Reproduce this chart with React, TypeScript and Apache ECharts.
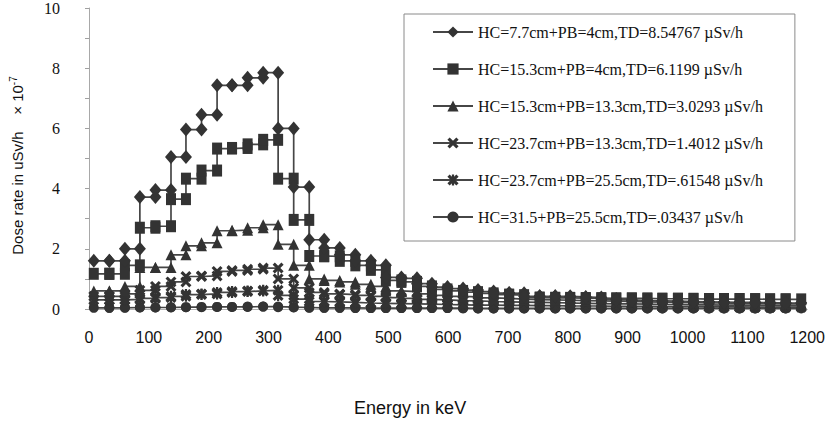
import React, { useEffect, useRef } from "react";
import * as echarts from "echarts";

// Bin edges of the energy spectrum (keV)
const energyEdges = [
  8, 34, 60, 85, 111, 137, 162, 188, 214, 239,
  265, 291, 316, 342, 368, 393, 419, 445, 471, 496,
  522, 548, 573, 599, 625, 650, 676, 702, 727, 753,
  779, 804, 830, 856, 881, 907, 933, 958, 984, 1010,
  1036, 1061, 1087, 1113, 1138, 1164, 1190,
];

// Dose rate per bin (uSv/h x 1e-7), one value for each bin between two edges
const doseHC77PB4 = [
  1.6, 1.6, 2.0, 3.72, 3.95, 5.05, 5.96, 6.45, 7.43, 7.43,
  7.68, 7.85, 6.0, 4.05, 2.3, 2.03, 1.8, 1.6, 1.45, 1.05,
  1.02, 0.84, 0.73, 0.68, 0.63, 0.58, 0.53, 0.52, 0.42, 0.42,
  0.42, 0.4, 0.38, 0.33, 0.3, 0.28, 0.27, 0.26, 0.25, 0.24,
  0.23, 0.22, 0.22, 0.21, 0.2, 0.2,
];
const doseHC153PB4 = [
  1.17, 1.17, 1.45, 2.7, 2.75, 3.65, 4.33, 4.6, 5.33, 5.35,
  5.47, 5.62, 4.33, 2.96, 1.76, 1.75, 1.6, 1.45, 1.3, 0.95,
  0.9, 0.75, 0.65, 0.6, 0.56, 0.52, 0.48, 0.46, 0.38, 0.37,
  0.37, 0.36, 0.36, 0.35, 0.35, 0.35, 0.34, 0.34, 0.34, 0.33,
  0.33, 0.33, 0.33, 0.32, 0.32, 0.32,
];
const doseHC153PB133 = [
  0.6, 0.6, 0.75, 1.38, 1.38, 1.8, 2.1, 2.2, 2.6, 2.62,
  2.7, 2.8, 2.15, 1.45, 1.0, 0.95, 0.9, 0.82, 0.75, 0.6,
  0.58, 0.5, 0.45, 0.42, 0.4, 0.37, 0.35, 0.33, 0.31, 0.3,
  0.29, 0.28, 0.27, 0.26, 0.25, 0.24, 0.23, 0.22, 0.21, 0.2,
  0.2, 0.19, 0.18, 0.18, 0.17, 0.17,
];
const doseHC237PB133 = [
  0.42, 0.42, 0.5, 0.62, 0.75, 0.9, 1.08, 1.1, 1.25, 1.28,
  1.32, 1.36, 1.0, 0.7, 0.55, 0.5, 0.48, 0.45, 0.42, 0.38,
  0.35, 0.32, 0.3, 0.28, 0.27, 0.25, 0.24, 0.23, 0.22, 0.21,
  0.2, 0.19, 0.18, 0.17, 0.17, 0.16, 0.15, 0.15, 0.14, 0.14,
  0.13, 0.13, 0.12, 0.12, 0.11, 0.11,
];
const doseHC237PB255 = [
  0.3, 0.3, 0.32, 0.35, 0.38, 0.42, 0.48, 0.5, 0.55, 0.58,
  0.6, 0.62, 0.45, 0.33, 0.25, 0.24, 0.22, 0.2, 0.19, 0.18,
  0.17, 0.16, 0.15, 0.14, 0.13, 0.13, 0.12, 0.12, 0.11, 0.11,
  0.1, 0.1, 0.1, 0.09, 0.09, 0.09, 0.08, 0.08, 0.08, 0.07,
  0.07, 0.07, 0.06, 0.06, 0.06, 0.06,
];
const doseHC315PB255 = [
  0.04, 0.04, 0.05, 0.05, 0.05, 0.06, 0.06, 0.07, 0.07, 0.07,
  0.08, 0.08, 0.06, 0.05, 0.04, 0.04, 0.04, 0.03, 0.03, 0.03,
  0.03, 0.03, 0.03, 0.03, 0.02, 0.02, 0.02, 0.02, 0.02, 0.02,
  0.02, 0.02, 0.02, 0.02, 0.02, 0.02, 0.02, 0.02, 0.02, 0.02,
  0.02, 0.02, 0.02, 0.02, 0.02, 0.02,
];

const seriesNames = [
  "HC=7.7cm+PB=4cm,TD=8.54767 µSv/h",
  "HC=15.3cm+PB=4cm,TD=6.1199 µSv/h",
  "HC=15.3cm+PB=13.3cm,TD=3.0293 µSv/h",
  "HC=23.7cm+PB=13.3cm,TD=1.4012 µSv/h",
  "HC=23.7cm+PB=25.5cm,TD=.61548 µSv/h",
  "HC=31.5+PB=25.5cm,TD=.03437 µSv/h",
];

const xTicks = { min: 0, max: 1200, interval: 100 };
const yTicks = { min: 0, max: 10, interval: 1 };

const SERIF = "Liberation Serif";
const SANS = "Liberation Sans";

const crossSymbol =
  "path://M0,2L2,0L5,3L8,0L10,2L7,5L10,8L8,10L5,7L2,10L0,8L3,5Z";
const starSymbol =
  "path://M0,2L2,0L5,3L8,0L10,2L7,5L10,8L8,10L5,7L2,10L0,8L3,5Z M4,0L6,0L6,10L4,10Z";

// Histogram outline: each bin contributes its left and right corner
function stepPoints(values: number[]): number[][] {
  const pts: number[][] = [];
  values.forEach((v, i) => {
    pts.push([energyEdges[i], v]);
    pts.push([energyEdges[i + 1], v]);
  });
  return pts;
}

const MARK = "#333333";
const LINE = "#464646";

function makeSeries(name: string, values: number[], symbol: string, size: number | number[]) {
  return {
    name,
    type: "line",
    data: stepPoints(values),
    symbol,
    symbolSize: size,
    showSymbol: true,
    itemStyle: { color: MARK },
    lineStyle: { color: LINE, width: 1.7 },
  };
}

export default function App() {
  const ref = useRef<HTMLDivElement>(null);

  useEffect(() => {
    if (!ref.current) return;
    const chart = echarts.init(ref.current, null, { renderer: "svg" });
    chart.setOption({
      animation: false,
      backgroundColor: "#ffffff",
      textStyle: { fontFamily: SERIF },
      grid: { left: 88, right: 20, top: 4, bottom: 111, containLabel: false },
      legend: {
        orient: "vertical",
        left: 404,
        top: 14,
        padding: [10, 32, 16, 28],
        itemGap: 21,
        itemWidth: 40,
        itemHeight: 14,
        backgroundColor: "#ffffff",
        borderColor: "#8a8a8a",
        borderWidth: 1,
        data: seriesNames,
        textStyle: {
          fontFamily: SERIF,
          fontSize: 16,
          color: "#111",
        },
      },
      xAxis: {
        type: "value",
        min: xTicks.min,
        max: xTicks.max,
        interval: xTicks.interval,
        name: "Energy in keV",
        nameLocation: "middle",
        nameGap: 90,
        nameTextStyle: {
          fontFamily: SANS,
          fontSize: 18,
          color: "#111",
          padding: [0, 76, 0, 0],
        },
        axisLine: { show: true, lineStyle: { color: "#b0b0b0", width: 1 } },
        axisTick: { show: false },
        splitLine: { show: false },
        axisLabel: {
          margin: 20,
          fontFamily: SANS,
          fontSize: 16,
          color: "#111",
          formatter: (v: number) => String(v),
        },
      },
      yAxis: {
        type: "value",
        min: yTicks.min,
        max: yTicks.max,
        interval: yTicks.interval,
        offset: 7,
        name: "{a|Dose rate in uSv/h    × 10}{b|-7}",
        nameLocation: "middle",
        nameGap: 56,
        nameTextStyle: {
          fontFamily: SANS,
          fontSize: 15,
          color: "#111",
          padding: [0, 14, 0, 0],
          rich: {
            a: { fontFamily: SANS, fontSize: 15, color: "#111", lineHeight: 18 },
            b: { fontFamily: SANS, fontSize: 10, color: "#111", lineHeight: 18, verticalAlign: "top" },
          },
        },
        axisLine: { show: true, lineStyle: { color: "#a8a8a8", width: 1 } },
        axisTick: { show: true, length: 4, lineStyle: { color: "#a0a0a0" } },
        splitLine: { show: false },
        axisLabel: {
          margin: 22,
          fontFamily: SERIF,
          fontSize: 16,
          color: "#111",
          formatter: (v: number) => (v % 2 === 0 ? String(v) : ""),
        },
      },
      series: [
        makeSeries(seriesNames[5], doseHC315PB255, "circle", 10),
        makeSeries(seriesNames[4], doseHC237PB255, starSymbol, 11),
        makeSeries(seriesNames[3], doseHC237PB133, crossSymbol, 11),
        makeSeries(seriesNames[2], doseHC153PB133, "triangle", 11),
        makeSeries(seriesNames[1], doseHC153PB4, "rect", [10, 12]),
        makeSeries(seriesNames[0], doseHC77PB4, "diamond", [12, 14]),
      ],
    });
    return () => chart.dispose();
  }, []);

  return (
    <div
      ref={ref}
      style={{ position: "fixed", left: 0, top: 0, width: 828, height: 422 }}
    />
  );
}
